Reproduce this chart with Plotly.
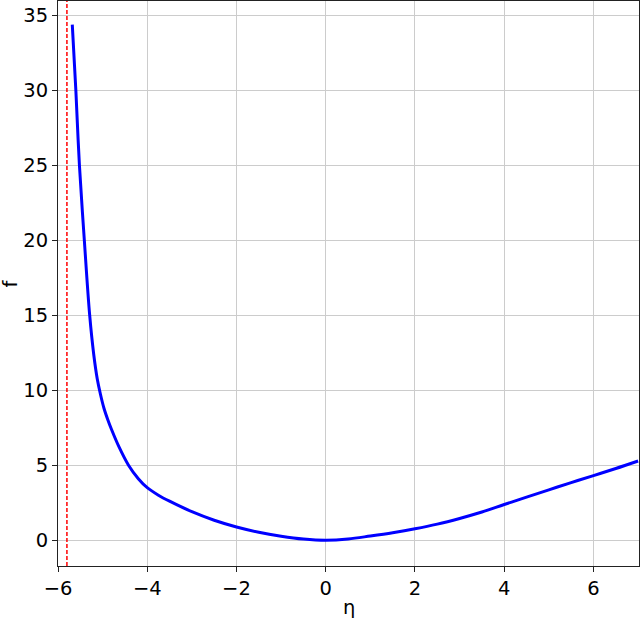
import plotly.graph_objects as go

# curve f(eta)
eta = [-5.68, -5.6, -5.52, -5.41, -5.29, -5.2, -5.12, -5.05, -4.97, -4.88,
       -4.80, -4.63, -4.42, -4.2, -4.0, -3.75, -3.5, -3.0, -2.5, -2.0,
       -1.5, -1.0, -0.5, 0.0, 0.5, 1.0, 1.5, 2.0, 2.5, 3.0,
       3.5, 4.0, 4.5, 5.0, 5.5, 6.0, 6.5, 7.0]
f = [34.38, 30.0, 25.0, 20.0, 15.0, 12.4, 10.75, 9.75, 8.8, 8.0,
     7.38, 6.2, 5.0, 4.1, 3.5, 3.0, 2.6, 1.9, 1.33, 0.88,
     0.53, 0.27, 0.08, 0.0, 0.08, 0.28, 0.5, 0.76, 1.07, 1.45,
     1.88, 2.38, 2.87, 3.36, 3.84, 4.31, 4.78, 5.28]

# asymptote position
eta_sing = -5.8

x_ticks = [-6, -4, -2, 0, 2, 4, 6]
y_ticks = [0, 5, 10, 15, 20, 25, 30, 35]

fig = go.Figure()
fig.add_trace(go.Scatter(x=eta, y=f, mode='lines', line=dict(color='#0000ff', width=3),
                         line_shape='spline', showlegend=False))
fig.add_vline(x=eta_sing, line=dict(color='#ff0000', width=1.5, dash='4px,2px'))

axis_common = dict(showline=True, linecolor='#222222', linewidth=1, mirror=True,
                   showgrid=True, gridcolor='#cccccc', gridwidth=1, zeroline=False,
                   ticks='outside', ticklen=5, tickcolor='#222222', automargin=False,
                   tickfont=dict(size=19.5, color='black'))

fig.update_xaxes(range=[-6, 7.02], tickvals=x_ticks,
                 ticktext=[str(v).replace('-', '\u2212') for v in x_ticks],
                 **axis_common)
fig.update_yaxes(range=[-1.72, 35.95], tickvals=y_ticks, **axis_common)

# axis titles
fig.add_annotation(text='η', xref='paper', yref='paper', x=0.5, y=0, yshift=-41,
                   showarrow=False, font=dict(size=19.5, color='black'), yanchor='middle')
fig.add_annotation(text='f', xref='paper', yref='paper', x=0, y=0.5, xshift=-48,
                   showarrow=False, font=dict(size=19.5, color='black'), textangle=-90,
                   xanchor='center')

fig.update_layout(width=640, height=620, margin=dict(l=58, r=1, t=1, b=54),
                  paper_bgcolor='white', plot_bgcolor='white',
                  font=dict(family='DejaVu Sans', color='black'))

# page has a default 8px body margin; drop it so the figure sits at 0,0
fig.write_html("out.html", config={'displayModeBar': False},
               post_script="document.body.style.margin='0';")
